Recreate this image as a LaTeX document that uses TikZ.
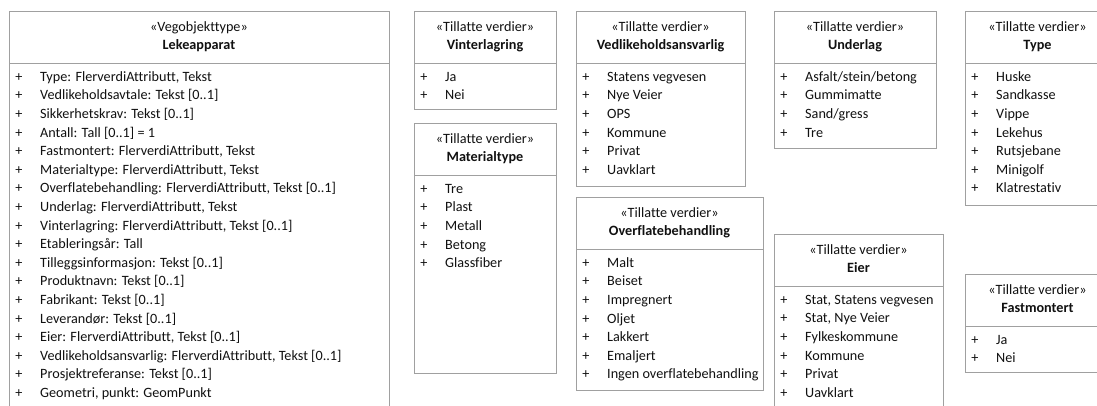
\documentclass[tikz,border=0pt]{standalone}
\usepackage{fontspec}
\setmainfont{Carlito}[Ligatures={NoCommon}]
\definecolor{boxline}{HTML}{A0A0A0}
\definecolor{txt}{HTML}{111111}
\tikzset{
  x=1pt, y=-1pt,
  frame/.style={draw=boxline, line width=1pt, inner sep=0pt, outer sep=0pt},
  divider/.style={draw=boxline, line width=1pt},
  stereo/.style={font=\fontsize{14.2}{16}\selectfont, text=txt, inner sep=0pt, anchor=mid},
  classname/.style={font=\fontsize{14.2}{16}\selectfont\bfseries, text=txt, inner sep=0pt, anchor=mid},
  plus/.style={font=\fontsize{14.2}{16}\selectfont, text=txt, inner sep=0pt, anchor=mid},
  item/.style={font=\fontsize{14.2}{16}\selectfont, text=txt, inner sep=0pt, anchor=mid west}
}
% #1 name, #2 left, #3 top, #4 right, #5 bottom, #6 stereotype, #7 title, #8 items
\newcommand{\umlclass}[8]{%
  \pgfmathsetmacro\bw{#4-#2}%
  \pgfmathsetmacro\bh{#5-#3}%
  \node[frame, anchor=north west, minimum width=\bw pt, minimum height=\bh pt] (#1) at (#2,#3) {};
  \draw[divider] (#2,{#3+52}) -- (#4,{#3+52});
  \node[stereo] (#1-st) at ({(#2+#4)/2},{#3+18.5}) {«#6»};
  \node[classname] (#1-nm) at ({(#2+#4)/2},{#3+36.5}) {#7};
  \foreach \t [count=\i from 0] in {#8} {
    \node[plus] (#1-p\i) at ({#2+10},{#3+68+18.6*\i}) {+};
    \node[item] (#1-i\i) at ({#2+31},{#3+68+18.6*\i}) {\t};
  }
}
\begin{document}
\begin{tikzpicture}
\useasboundingbox (0,0) rectangle (1097,405);
\fill[white] (0,0) rectangle (1097,405);
\clip (0,0) rectangle (1097,405);
\umlclass{lek}{9}{11}{389}{425}{Vegobjekttype}{Lekeapparat}{%
  {Type: FlerverdiAttributt, Tekst},
  {Vedlikeholdsavtale: Tekst [0..1]},
  {Sikkerhetskrav: Tekst [0..1]},
  {Antall: Tall [0..1] = 1},
  {Fastmontert: FlerverdiAttributt, Tekst},
  {Materialtype: FlerverdiAttributt, Tekst},
  {Overflatebehandling: FlerverdiAttributt, Tekst [0..1]},
  {Underlag: FlerverdiAttributt, Tekst},
  {Vinterlagring: FlerverdiAttributt, Tekst [0..1]},
  {Etableringsår: Tall},
  {Tilleggsinformasjon: Tekst [0..1]},
  {Produktnavn: Tekst [0..1]},
  {Fabrikant: Tekst [0..1]},
  {Leverandør: Tekst [0..1]},
  {Eier: FlerverdiAttributt, Tekst [0..1]},
  {Vedlikeholdsansvarlig: FlerverdiAttributt, Tekst [0..1]},
  {Prosjektreferanse: Tekst [0..1]},
  {Geometri, punkt: GeomPunkt}}
\umlclass{vint}{414}{11}{556}{109}{Tillatte verdier}{Vinterlagring}{Ja, Nei}
\umlclass{mat}{414}{123}{556}{373}{Tillatte verdier}{Materialtype}{Tre, Plast, Metall, Betong, Glassfiber}
\umlclass{ved}{576}{11}{745}{186}{Tillatte verdier}{Vedlikeholdsansvarlig}{Statens vegvesen, Nye Veier, OPS, Kommune, Privat, Uavklart}
\umlclass{ovf}{576}{197}{763}{390}{Tillatte verdier}{Overflatebehandling}{Malt, Beiset, Impregnert, Oljet, Lakkert, Emaljert, Ingen overflatebehandling}
\umlclass{und}{774}{11}{936}{148}{Tillatte verdier}{Underlag}{Asfalt/stein/betong, Gummimatte, Sand/gress, Tre}
\umlclass{typ}{965}{11}{1110}{205}{Tillatte verdier}{Type}{Huske, Sandkasse, Vippe, Lekehus, Rutsjebane, Minigolf, Klatrestativ}
\umlclass{eier}{774}{234}{943}{425}{Tillatte verdier}{Eier}{{Stat, Statens vegvesen}, {Stat, Nye Veier}, Fylkeskommune, Kommune, Privat, Uavklart}
\umlclass{fast}{965}{274}{1110}{372}{Tillatte verdier}{Fastmontert}{Ja, Nei}
\end{tikzpicture}
\end{document}
